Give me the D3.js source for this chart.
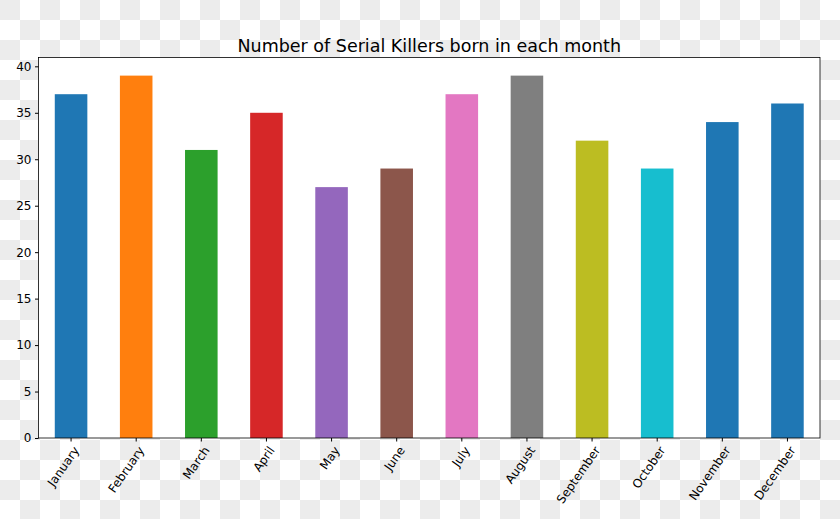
<!DOCTYPE html>
<html><head><meta charset="utf-8">
<script src="https://cdn.jsdelivr.net/npm/d3@7"></script>
<style>body{margin:0}svg{display:block}</style></head>
<body><script>
const months=["January","February","March","April","May","June","July","August","September","October","November","December"];
const counts=[37,39,31,35,27,29,37,39,32,29,34,36];
const colors=["#1f77b4","#ff7f0e","#2ca02c","#d62728","#9467bd","#8c564b","#e377c2","#7f7f7f","#bcbd22","#17becf","#1f77b4","#1f77b4"];
const yTicks=[0,5,10,15,20,25,30,35,40];
const W=840,H=519,L=38.5,R=820,T=57.5,B=438;
const svg=d3.select("body").append("svg").attr("width",W).attr("height",H);
const defs=svg.append("defs");
const p=defs.append("pattern").attr("id","cb").attr("width",40).attr("height",40).attr("patternUnits","userSpaceOnUse");
p.append("rect").attr("width",40).attr("height",40).attr("fill","#fff");
p.append("rect").attr("width",20).attr("height",20).attr("fill","#ececec");
p.append("rect").attr("x",20).attr("y",20).attr("width",20).attr("height",20).attr("fill","#ececec");
svg.append("rect").attr("width",W).attr("height",H).attr("fill","url(#cb)");
svg.append("rect").attr("x",L).attr("y",T).attr("width",R-L).attr("height",B-T).attr("fill","#fff");
const x=d3.scaleBand().domain(months).range([L,R]).paddingInner(0.5).paddingOuter(0.25);
const y=d3.scaleLinear().domain([0,40.95]).range([B,T]);
svg.selectAll(".bar").data(months).join("rect")
 .attr("x",d=>x(d)).attr("width",x.bandwidth())
 .attr("y",(d,i)=>y(counts[i])).attr("height",(d,i)=>B-y(counts[i]))
 .attr("fill",(d,i)=>colors[i]);
const ya=svg.append("g").attr("transform",`translate(${L},0)`).call(d3.axisLeft(y).tickValues(yTicks).tickSize(3.5).tickPadding(3.5));
const xa=svg.append("g").attr("transform",`translate(0,${B})`).call(d3.axisBottom(x).tickSize(3.5).tickPadding(3));
[ya,xa].forEach(a=>{a.select(".domain").remove();a.selectAll("text").attr("font-family","DejaVu Sans").attr("font-size",12).attr("fill","#000");a.selectAll("line").attr("stroke","#000");});
xa.selectAll("text").attr("text-anchor","end").attr("dy","0.35em").attr("transform","translate(0,6) rotate(-55)");
svg.append("rect").attr("x",L).attr("y",T).attr("width",R-L).attr("height",B-T).attr("fill","none").attr("stroke","#000").attr("stroke-width",0.8);
svg.append("text").attr("x",(L+R)/2).attr("y",T-6).attr("text-anchor","middle").attr("font-family","DejaVu Sans").attr("font-size",17.5).text("Number of Serial Killers born in each month");
</script></body></html>
